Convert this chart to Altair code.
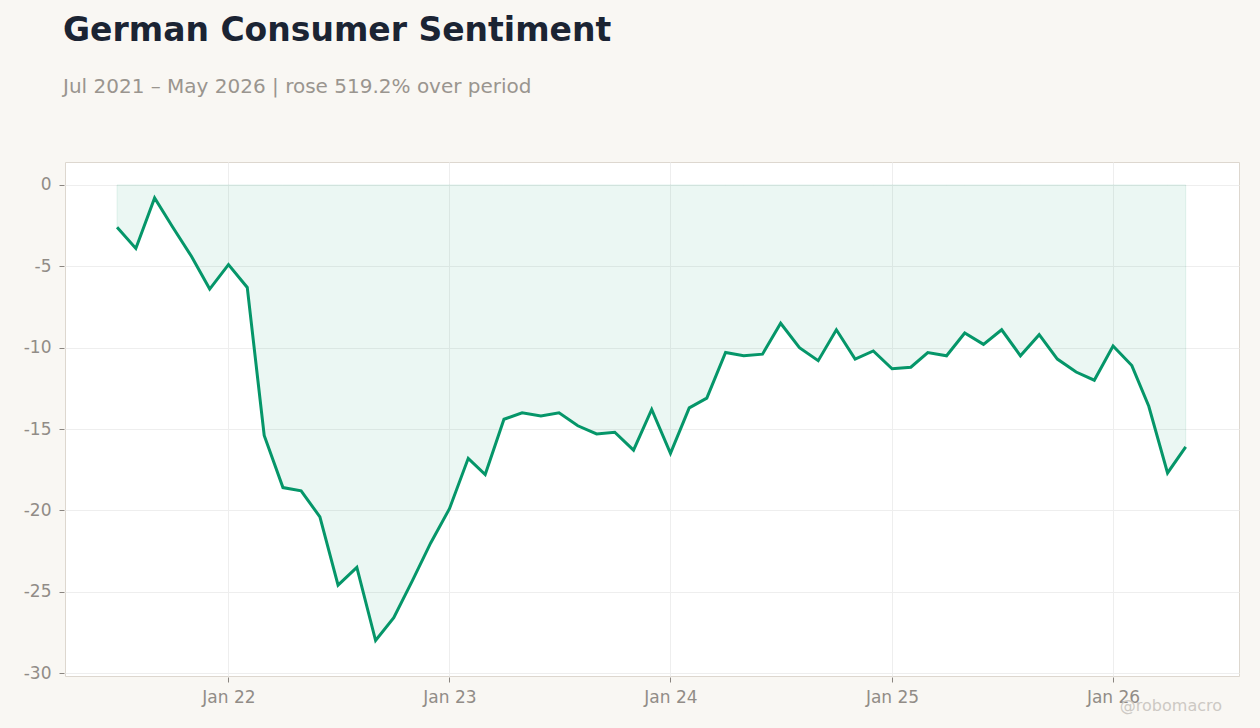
import altair as alt
import pandas as pd

months = pd.date_range("2021-07-01", "2026-05-01", freq="MS").strftime("%Y-%m-%d").tolist()
values = [
    -2.6, -3.9, -0.8, -2.6, -4.4, -6.4,
    -4.9, -6.3, -15.4, -18.6, -18.8, -20.4, -24.6, -23.5, -28.0, -26.6, -24.3, -22.0,
    -19.9, -16.8, -17.8, -14.4, -14.0, -14.2, -14.0, -14.8, -15.3, -15.2, -16.3, -13.8,
    -16.5, -13.7, -13.1, -10.3, -10.5, -10.4, -8.5, -10.0, -10.8, -8.9, -10.7, -10.2,
    -11.3, -11.2, -10.3, -10.5, -9.1, -9.8, -8.9, -10.5, -9.2, -10.7, -11.5, -12.0,
    -9.9, -11.1, -13.6, -17.7, -16.1,
]
title_text = "German Consumer Sentiment"
subtitle_text = "Jul 2021 – May 2026 | rose 519.2% over period"
watermark = ["@robomacro"]

df = pd.DataFrame({"date": months, "value": values})
wm = pd.DataFrame({"t": watermark})

GREEN = "#059669"
LABEL = "#918c87"
BG = "#f9f7f3"
FONT = "DejaVu Sans"

xscale = alt.Scale(
    type="utc",
    domain=[alt.DateTime(year=2021, month=4, date=6, utc=True),
            alt.DateTime(year=2026, month=7, date=28, utc=True)],
)
yscale = alt.Scale(domain=[-30.18, 1.41], nice=False, zero=False)

xaxis = alt.Axis(
    title=None,
    values=[alt.DateTime(year=y, month=1, date=1, utc=True) for y in range(2022, 2027)],
    labelExpr="utcFormat(datum.value, '%b %y')",
    grid=True, gridColor="#eeeeee", domain=False, ticks=True, tickColor="#8a8580",
    tickSize=5, offset=1, labelPadding=7, labelColor=LABEL, labelFontSize=17, labelFont=FONT,
)
yaxis = alt.Axis(
    title=None, values=[0, -5, -10, -15, -20, -25, -30],
    labelExpr="'' + datum.value",
    grid=True, gridColor="#eeeeee", domain=False, ticks=True, tickColor="#8a8580",
    tickSize=5, offset=1, labelPadding=8, labelColor=LABEL, labelFontSize=17, labelFont=FONT,
)

base = alt.Chart(df)

area = base.mark_area(
    color=GREEN, fillOpacity=0.08, stroke=GREEN, strokeOpacity=0.1, strokeWidth=1,
).encode(
    x=alt.X("date:T", scale=xscale, axis=xaxis),
    y=alt.Y("value:Q", scale=yscale, axis=yaxis),
    y2=alt.datum(0),
)

line = base.mark_line(color=GREEN, strokeWidth=3, strokeJoin="miter").encode(
    x=alt.X("date:T", scale=xscale),
    y=alt.Y("value:Q", scale=yscale),
)

mark_wm = alt.Chart(wm).mark_text(
    align="right", baseline="alphabetic", fontSize=16, font=FONT, color="#cdc9c4", clip=False,
).encode(
    text="t:N",
    x=alt.value(1157),
    y=alt.value(549),
)

chart = alt.layer(area, line, mark_wm).properties(
    width=1174,
    height=514,
    autosize=alt.AutoSizeParams(type="none"),
    padding={"left": 57, "top": 154, "right": 13, "bottom": 40},
    background=BG,
    title=alt.Title(
        text=title_text,
        subtitle=subtitle_text,
        anchor="start",
        frame="group",
        dx=-2,
        offset=65,
        font=FONT,
        fontSize=33,
        fontWeight="bold",
        color="#1b2433",
        subtitleFont=FONT,
        subtitleFontSize=20,
        subtitleColor="#9a958f",
        subtitlePadding=29,
    ),
).configure_view(
    fill="white", stroke="#ddd7cf", strokeWidth=1,
)

# page background matching the chart background (so the 8px margin is not white)
saved = False
try:
    import jinja2
    from altair.utils import html as _ah
    _std = _ah.TEMPLATES["standard"]

    class _BgTemplate(jinja2.Template):
        def render(self, *args, **kwargs):
            out = _std.render(*args, **kwargs)
            style = "<style>html,body{background:%s;}</style>" % BG
            if "<head>" in out:
                return out.replace("<head>", "<head>" + style, 1)
            return style + out

    _tpl = _BgTemplate("x")
    chart.save("out.html", embed_options={"renderer": "svg", "actions": False}, template=_tpl)
    saved = True
except Exception:
    saved = False

if not saved:
    chart.save("out.html", embed_options={"renderer": "svg", "actions": False})
